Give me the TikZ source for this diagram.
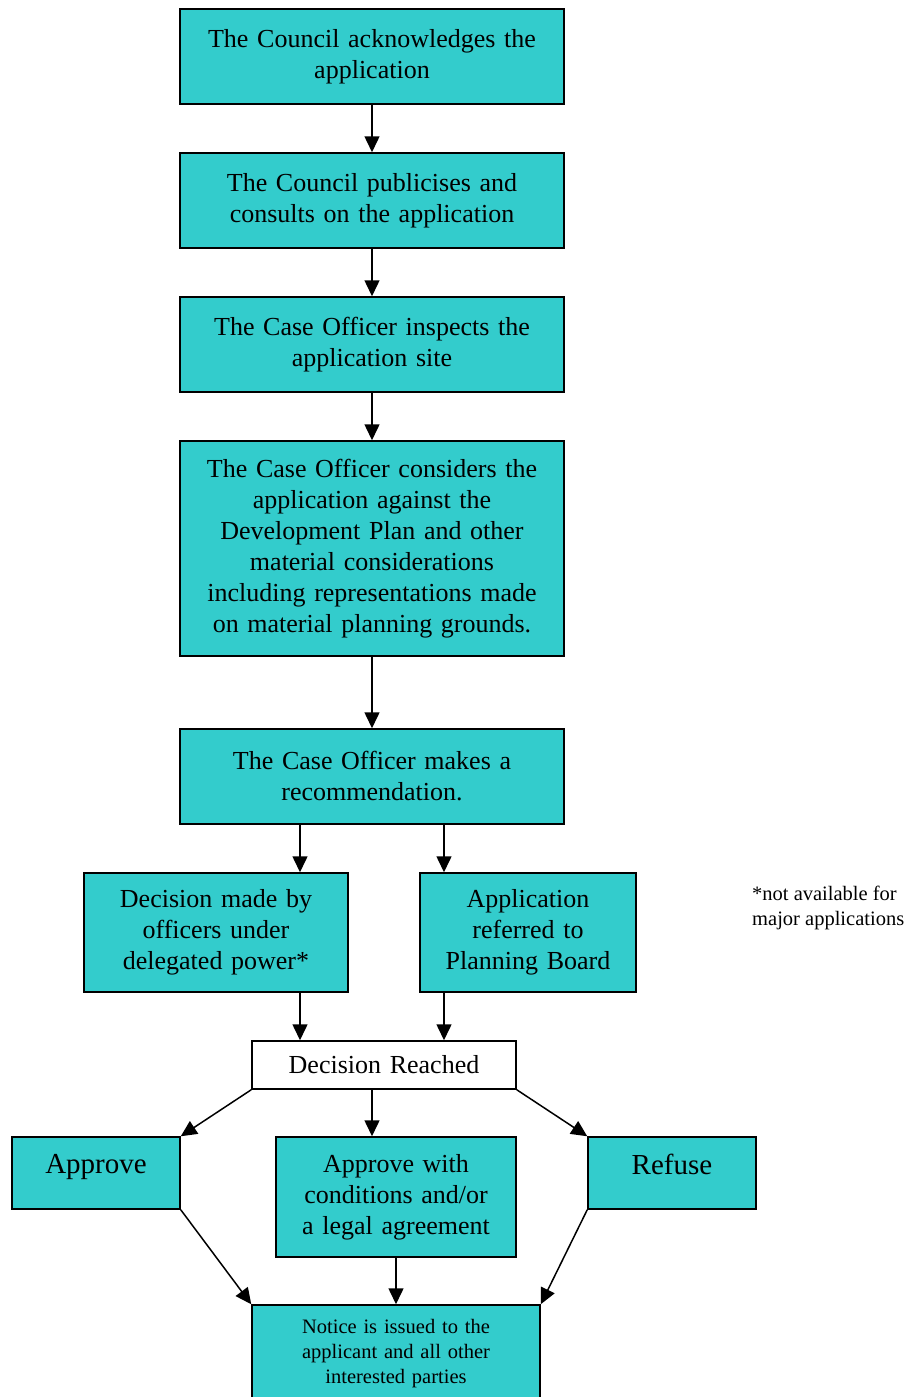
\documentclass[tikz,border=0pt]{standalone}
\usepackage{fontspec}
\setmainfont{Liberation Serif}
\usetikzlibrary{positioning}
\usetikzlibrary{arrows.meta}
\definecolor{stagefill}{HTML}{33CCCC}
\newcommand{\bigtext}{\fontsize{26}{31}\selectfont}
\newcommand{\hugetext}{\fontsize{29}{34}\selectfont}
\newcommand{\smalltext}{\fontsize{20.5}{25}\selectfont}
\tikzset{
  stage/.style={draw, fill=stagefill, line width=1.5pt, align=center, inner xsep=10pt, inner ysep=0pt, font=\bigtext},
  flow/.style={-{Triangle[length=16pt, width=15pt]}, line width=1.5pt},
}

\begin{document}
\begin{tikzpicture}[x=1pt, y=-1pt]
        \useasboundingbox (0,0) rectangle (912,1397);
        % main column
        \node [stage, text width=364pt, minimum height=95pt] (ack) at (372,56.5) {The Council acknowledges the\\application};
        \node [stage, text width=364pt, minimum height=95pt, below=47.5pt of ack] (pub) {The Council publicises and\\consults on the application};
        \node [stage, text width=364pt, minimum height=95pt, below=47.5pt of pub] (insp) {The Case Officer inspects the\\application site};
        \node [stage, text width=364pt, minimum height=215pt, below=47.5pt of insp] (cons) {The Case Officer considers the\\application against the\\Development Plan and other\\material considerations\\including representations made\\on material planning grounds.};
        \node [stage, text width=364pt, minimum height=95pt, below=71.5pt of cons] (rec) {The Case Officer makes a\\recommendation.};
        % the two routes
        \node [stage, text width=244pt, minimum height=119pt] (deleg) at (216,932.5) {Decision made by\\officers under\\delegated power*};
        \node [stage, text width=196pt, minimum height=119pt] (board) at (528,932.5) {Application\\referred to\\Planning Board};
        \node [anchor=west, align=left, inner sep=0pt, font=\smalltext] (note) at (752,907.5) {*not available for\\major applications};
        \node [stage, fill=white, text width=244pt, minimum height=48pt] (reached) at (384,1065) {Decision Reached};
        % outcomes
        \node [stage, text width=148pt, minimum height=72pt, text depth=18pt, font=\hugetext] (appr) at (96,1173) {Approve};
        \node [stage, text width=220pt, minimum height=120pt] (apprc) at (396,1197) {Approve with\\conditions and/or\\a legal agreement};
        \node [stage, text width=148pt, minimum height=72pt, text depth=18pt, font=\hugetext] (refuse) at (672,1173) {Refuse};
        \node [stage, text width=268pt, minimum height=98pt, font=\smalltext] (notice) at (396,1354) {Notice is issued to the\\applicant and all other\\interested parties};
        \coordinate (lft) at ([xshift=-72pt]rec.south);
        \coordinate (rgt) at ([xshift=72pt]rec.south);
        \draw[flow] (ack) -- (pub);
        \draw[flow] (pub) -- (insp);
        \draw[flow] (insp) -- (cons);
        \draw[flow] (cons) -- (rec);
        \draw[flow] (lft) -- (lft |- deleg.north);
        \draw[flow] (rgt) -- (rgt |- board.north);
        \draw[flow] (deleg.south -| lft) -- (lft |- reached.north);
        \draw[flow] (board.south -| rgt) -- (rgt |- reached.north);
        \draw[flow] (reached.south west) -- (appr.north east);
        \draw[flow] (reached.south -| rec.south) -- (rec.south |- apprc.north);
        \draw[flow] (reached.south east) -- (refuse.north west);
        \draw[flow] (appr.south east) -- (notice.north west);
        \draw[flow] (apprc) -- (notice);
        \draw[flow] (refuse.south west) -- (notice.north east);
    \end{tikzpicture}
\end{document}
